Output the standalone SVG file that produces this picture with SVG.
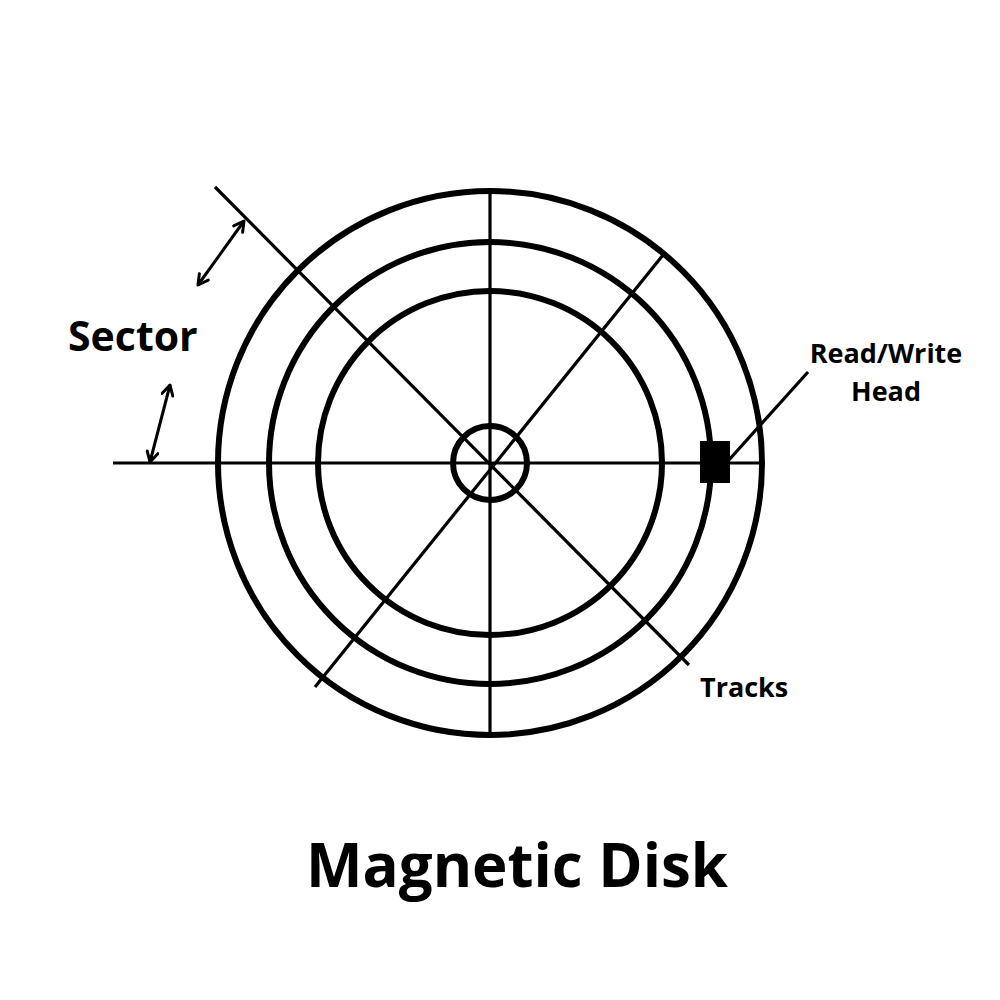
<svg xmlns="http://www.w3.org/2000/svg" width="1000" height="1000" viewBox="0 0 1000 1000">
<defs>
<style>
.ring{fill:none;stroke:#000;stroke-width:6}
.ln{stroke:#000;stroke-width:3.2;fill:none}
.arr{stroke:#000;stroke-width:3;fill:none;marker-start:url(#ah);marker-end:url(#ah)}
.lbl{font-family:"Open Sans","Liberation Sans",sans-serif;font-weight:700;fill:#000}
</style>
<marker id="ah" viewBox="0 0 14 14" refX="12" refY="7" markerWidth="14" markerHeight="14" markerUnits="userSpaceOnUse" orient="auto-start-reverse">
<path d="M2,1.5 L12,7 L2,12.5" fill="none" stroke="#000" stroke-width="3" stroke-linecap="round" stroke-linejoin="round"/>
</marker>
</defs>
<rect width="1000" height="1000" fill="#fff"/>
<g id="connectors">
<line class="ln" x1="113" y1="463" x2="762" y2="463"/>
<line class="ln" x1="490" y1="191" x2="490" y2="735"/>
<line class="ln" x1="215" y1="187" x2="689" y2="665"/>
<line class="ln" x1="663" y1="255" x2="315" y2="687"/>
<line class="arr" x1="244" y1="221" x2="198" y2="285"/>
<line class="arr" x1="170" y1="385" x2="150" y2="462"/>
<line class="ln" x1="728" y1="461" x2="808" y2="372"/>
</g>
<g id="disk">
<circle class="ring" cx="490" cy="463" r="272"/>
<circle class="ring" cx="490" cy="463" r="221"/>
<circle class="ring" cx="490" cy="463" r="172"/>
<circle class="ring" cx="490" cy="463" r="37"/>
</g>
<g id="head">
<rect x="700" y="441" width="30" height="42" fill="#000"/>
<text class="lbl" x="886" y="363" font-size="27" text-anchor="middle">Read/Write</text>
<text class="lbl" x="886" y="401" font-size="27" text-anchor="middle">Head</text>
</g>
<g id="sector">
<text class="lbl" x="68" y="351" font-size="41">Sector</text>
</g>
<g id="tracks">
<text class="lbl" x="700" y="697" font-size="27">Tracks</text>
</g>
<g id="title">
<text class="lbl" x="517" y="887" font-size="60" text-anchor="middle">Magnetic Disk</text>
</g>
</svg>
